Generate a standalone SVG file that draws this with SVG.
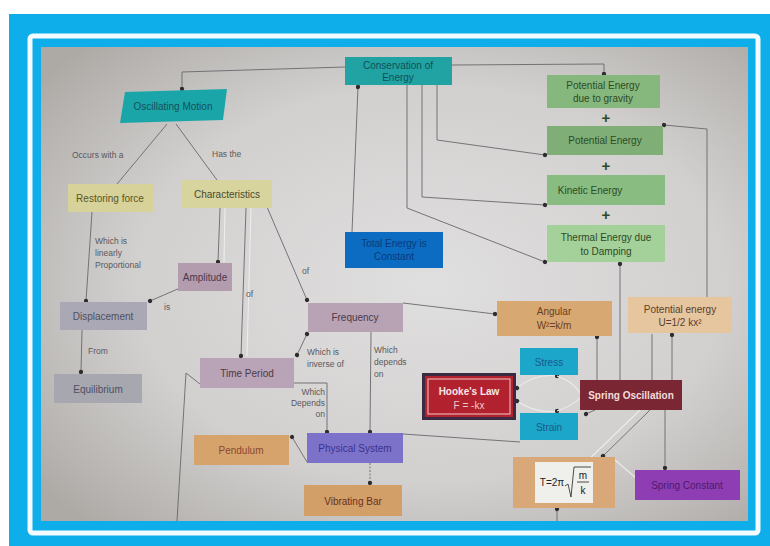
<svg xmlns="http://www.w3.org/2000/svg" width="770" height="546" viewBox="0 0 770 546">
<defs>
<radialGradient id="board" cx="0.55" cy="0.5" r="0.7">
<stop offset="0" stop-color="#E0DFDF"/>
<stop offset="0.6" stop-color="#D2D0CF"/>
<stop offset="1" stop-color="#ADAAA6"/>
</radialGradient>
<marker id="dot" viewBox="0 0 6 6" refX="3" refY="3" markerWidth="5" markerHeight="5" markerUnits="userSpaceOnUse" orient="auto">
<circle cx="3" cy="3" r="2.6" fill="#2E2C30"/>
</marker>
</defs>
<style>
text{font-family:"Liberation Sans",Arial,sans-serif}
.n text{font-size:10px;text-anchor:middle;dominant-baseline:central}
.lbl{font-size:8.5px;fill:#5A585C}
.lr{text-anchor:end}
.c{stroke:#6A686C;stroke-width:0.9;fill:none}
.m{marker-end:url(#dot)}
.s{marker-start:url(#dot)}
.lt{stroke:#ECECEC;stroke-width:1.1;fill:none}
.plus{font-size:15px;font-weight:bold;fill:#2F4A2A;text-anchor:middle;dominant-baseline:central}
</style>
<rect x="0" y="0" width="770" height="546" fill="#FFFFFF"/>
<rect x="9" y="14" width="761" height="532" fill="#0DAEEA"/>
<rect x="30" y="36" width="728" height="497" rx="3" fill="none" stroke="#F4FBFE" stroke-width="5"/>
<rect x="41" y="47" width="707" height="474" fill="url(#board)"/>

<g id="connectors">
<path class="c m" d="M345,67 L182,72 L182,89"/>
<path class="c m" d="M452,65 L604,64 L604,74"/>
<path class="c m" d="M437,85 L437,140 L545,155"/>
<path class="c m" d="M422,85 L422,197 L545,205"/>
<path class="c m" d="M407,85 L407,208 L545,262"/>
<path class="c m" d="M352,232 L358,87"/>
<path class="c m" d="M707,297 L707,129 L664,125"/>
<path class="c m" d="M620,380 L620,264"/>
<path class="c m" d="M597,380 L597,337"/>
<path class="c m" d="M672,380 L672,335"/>
<path class="c" d="M652,380 L652,334"/>
<path class="c m" d="M665,410 L665,468"/>
<path class="c m" d="M650,410 L603,456"/>
<path class="lt" d="M640,410 L582,466"/>
<path class="lt" d="M615,460 L636,478"/>
<path class="lt s m" d="M517,388 Q536,373 557,376"/>
<path class="lt s m" d="M517,401 Q536,414 557,411"/>
<path class="lt" d="M557,376 Q574,382 580,393"/>
<path class="lt" d="M557,411 Q574,405 580,398"/>
<path class="c m" d="M595,410 L586,414"/>
<path class="c m" d="M403,303 L495,314"/>
<path class="c" d="M403,434 L520,442"/>
<path class="c m" d="M371,332 L370,432"/>
<path class="c m" d="M294,383 L327,383 L327,432"/>
<path class="c s m" d="M307,334 L297,355"/>
<path class="c m" d="M267,207 L307,300"/>
<path class="c m" d="M246,208 L241,356"/>
<path class="c m" d="M220,208 L218,262"/>
<path class="lt" d="M225,208 L224,262"/>
<path class="lt" d="M251,208 L247,356"/>
<path class="c m" d="M180,288 L150,301"/>
<path class="c m" d="M92,212 L86,301"/>
<path class="c m" d="M82,330 L81,372"/>
<path class="c" d="M167,124 L117,184"/>
<path class="c" d="M176,124 L217,180"/>
<path class="c m" d="M307,462 L292,437"/>
<path class="c m" d="M370,463 L370,483" stroke-dasharray="2,1.5"/>
<path class="c" d="M200,384 L186,373 L177,521"/>
<path class="c m" d="M557,521 L557,509"/>
<text class="lbl" x="72" y="158">Occurs with a</text>
<text class="lbl" x="212" y="157">Has the</text>
<text class="lbl" x="95" y="244">Which is</text>
<text class="lbl" x="95" y="256">linearly</text>
<text class="lbl" x="95" y="268">Proportional</text>
<text class="lbl" x="164" y="310">is</text>
<text class="lbl" x="246" y="297">of</text>
<text class="lbl" x="302" y="274">of</text>
<text class="lbl" x="88" y="354">From</text>
<text class="lbl" x="307" y="355">Which is</text>
<text class="lbl" x="307" y="367">inverse of</text>
<text class="lbl" x="374" y="353">Which</text>
<text class="lbl" x="374" y="365">depends</text>
<text class="lbl" x="374" y="377">on</text>
<text class="lbl lr" x="325" y="395">Which</text>
<text class="lbl lr" x="325" y="406">Depends</text>
<text class="lbl lr" x="325" y="417">on</text>
</g>

<g id="oscillating-motion" class="n">
<polygon points="125,92 227,89 223,120 120,123" fill="#1AA6A8"/>
<text x="173" y="106" fill="#15505A">Oscillating Motion</text>
</g>
<g id="conservation" class="n">
<rect x="345" y="57" width="107" height="28" fill="#20A3A2"/>
<text x="398" y="65" fill="#12505A" font-size="9">Conservation of</text>
<text x="398" y="77" fill="#12505A" font-size="9">Energy</text>
</g>
<g id="pe-gravity" class="n">
<rect x="547" y="75" width="113" height="33" fill="#86B87D"/>
<text x="603" y="85" fill="#2E4A28" font-size="9">Potential Energy</text>
<text x="603" y="98" fill="#2E4A28" font-size="9">due to gravity</text>
</g>
<text class="plus" x="606" y="117">+</text>
<g id="potential-energy" class="n">
<rect x="547" y="126" width="116" height="29" fill="#7FAF76"/>
<text x="605" y="140" fill="#2E4A28">Potential Energy</text>
</g>
<text class="plus" x="606" y="165">+</text>
<g id="kinetic-energy" class="n">
<rect x="547" y="175" width="118" height="30" fill="#88BC80"/>
<text x="590" y="190" fill="#2E4A28">Kinetic Energy</text>
</g>
<text class="plus" x="606" y="214">+</text>
<g id="thermal-energy" class="n">
<rect x="547" y="225" width="118" height="37" fill="#A4D09A"/>
<text x="606" y="237" fill="#2E4A28">Thermal Energy due</text>
<text x="606" y="251" fill="#2E4A28">to Damping</text>
</g>
<g id="total-energy" class="n">
<rect x="345" y="232" width="98" height="36" fill="#0C6CC2"/>
<text x="394" y="243" fill="#0A3A78" font-size="9">Total Energy is</text>
<text x="394" y="256" fill="#0A3A78" font-size="9">Constant</text>
</g>
<g id="restoring-force" class="n">
<rect x="68" y="184" width="85" height="28" fill="#D6D29A"/>
<text x="110" y="198" fill="#5A5626" font-size="9.5">Restoring force</text>
</g>
<g id="characteristics" class="n">
<rect x="182" y="180" width="90" height="28" fill="#D8D49E"/>
<text x="227" y="194" fill="#4A4A30" font-size="9.5">Characteristics</text>
</g>
<g id="amplitude" class="n">
<rect x="178" y="263" width="54" height="28" fill="#B49CAF"/>
<text x="205" y="277" fill="#4A3A48" font-size="9">Amplitude</text>
</g>
<g id="displacement" class="n">
<rect x="60" y="302" width="87" height="28" fill="#A9A8B4"/>
<text x="103" y="316" fill="#505060" font-size="9.5">Displacement</text>
</g>
<g id="equilibrium" class="n">
<rect x="54" y="374" width="88" height="29" fill="#A7A7B0"/>
<text x="98" y="389" fill="#505060" font-size="9.5">Equilibrium</text>
</g>
<g id="time-period" class="n">
<rect x="200" y="358" width="94" height="30" fill="#B9A3B6"/>
<text x="247" y="373" fill="#4A3A48">Time Period</text>
</g>
<g id="frequency" class="n">
<rect x="308" y="303" width="95" height="29" fill="#B8A3B5"/>
<text x="355" y="317" fill="#4A3A48">Frequency</text>
</g>
<g id="angular" class="n">
<rect x="497" y="301" width="115" height="35" fill="#D7A872"/>
<text x="554" y="311" fill="#6A4020" font-size="9.5">Angular</text>
<text x="554" y="325" fill="#6A4020" font-size="9.5">W²=k/m</text>
</g>
<g id="potential-u" class="n">
<rect x="628" y="297" width="104" height="36" fill="#E6C69E"/>
<text x="680" y="309" fill="#5A4030" font-size="9.5">Potential energy</text>
<text x="680" y="322" fill="#5A4030" font-size="9.5">U=1/2 kx²</text>
</g>
<g id="stress" class="n">
<rect x="520" y="348" width="58" height="27" fill="#1CA6C9"/>
<text x="549" y="362" fill="#1A5A8C">Stress</text>
</g>
<g id="hookes-law" class="n">
<rect x="422" y="373" width="94" height="47" fill="#3A2B42"/>
<rect x="425" y="376" width="88" height="41" fill="#B2222E"/>
<rect x="428" y="379" width="82" height="35" fill="none" stroke="#F0C8C8" stroke-width="1"/>
<text x="469" y="391" fill="#F8E6E6" font-size="10" font-weight="bold">Hooke's Law</text>
<text x="469" y="405" fill="#F0C8C8" font-size="7">F = -kx</text>
</g>
<g id="spring-oscillation" class="n">
<rect x="580" y="380" width="102" height="30" fill="#7A2733"/>
<text x="631" y="395" fill="#F4DCDC" font-weight="bold">Spring Oscillation</text>
</g>
<g id="strain" class="n">
<rect x="520" y="413" width="58" height="27" fill="#1CA6C9"/>
<text x="549" y="427" fill="#1A5A8C">Strain</text>
</g>
<g id="pendulum" class="n">
<rect x="194" y="435" width="95" height="30" fill="#D6A36C"/>
<text x="241" y="450" fill="#8A4A30">Pendulum</text>
</g>
<g id="physical-system" class="n">
<rect x="307" y="433" width="96" height="30" fill="#7D72C9"/>
<text x="355" y="448" fill="#3A3290">Physical System</text>
</g>
<g id="vibrating-bar" class="n">
<rect x="304" y="485" width="98" height="31" fill="#D39F68"/>
<text x="353" y="501" fill="#6A3020">Vibrating Bar</text>
</g>
<g id="period-formula" class="n">
<rect x="513" y="457" width="102" height="51" fill="#D8A878"/>
<rect x="535" y="462" width="58" height="41" fill="#EFEFEC"/>
<text x="552" y="482" fill="#222" font-size="9">T=2π</text>
<polyline points="565,486 568,484 571,497 574,467 591,467" fill="none" stroke="#222" stroke-width="0.8"/>
<text x="583" y="475" fill="#222" font-size="8">m</text>
<line x1="577" y1="482" x2="589" y2="482" stroke="#222" stroke-width="0.8"/>
<text x="583" y="490" fill="#222" font-size="8">k</text>
</g>
<g id="spring-constant" class="n">
<rect x="635" y="470" width="105" height="30" fill="#8E3EB2"/>
<text x="687" y="485" fill="#4A1A70">Spring Constant</text>
</g>
</svg>
